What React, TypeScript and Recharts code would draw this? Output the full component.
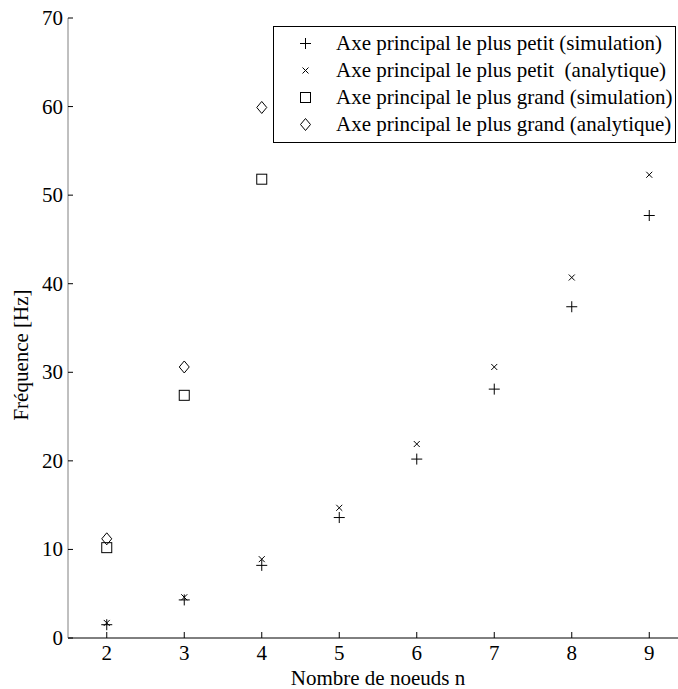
import React from "react";
import { ScatterChart, Scatter, XAxis, YAxis, Legend } from "recharts";

// nombre de noeuds
const nodes = [2, 3, 4, 5, 6, 7, 8, 9];
const petitSim = [1.5, 4.3, 8.2, 13.6, 20.2, 28.1, 37.4, 47.7];
const petitAna = [1.7, 4.6, 8.9, 14.7, 21.9, 30.6, 40.7, 52.3];

const grandNodes = [2, 3, 4];
const grandSim = [10.2, 27.4, 51.8];
const grandAna = [11.2, 30.6, 59.9];

const yTicks = [0, 10, 20, 30, 40, 50, 60, 70];

const FONT = "'Liberation Serif', 'Times New Roman', serif";
const FS = 21;

const toPoints = (xs: number[], ys: number[]) => xs.map((n, i) => ({ n, f: ys[i] }));

const PlusMark = ({ cx, cy }: any) => (
    <path d={`M${cx - 5.5},${cy}H${cx + 5.5}M${cx},${cy - 5.5}V${cy + 5.5}`} stroke="#000" fill="none" />
);
const CrossMark = ({ cx, cy }: any) => (
    <path d={`M${cx - 3},${cy - 3}L${cx + 3},${cy + 3}M${cx - 3},${cy + 3}L${cx + 3},${cy - 3}`} stroke="#000" fill="none" />
);
const SquareMark = ({ cx, cy }: any) => (
    <rect x={cx - 5} y={cy - 5} width={10} height={10} stroke="#000" fill="none" />
);
const DiamondMark = ({ cx, cy }: any) => (
    <path d={`M${cx},${cy - 6}L${cx + 5},${cy}L${cx},${cy + 6}L${cx - 5},${cy}Z`} stroke="#000" fill="none" />
);

const series = [
    { name: "Axe principal le plus petit (simulation)", data: toPoints(nodes, petitSim), Mark: PlusMark },
    { name: "Axe principal le plus petit  (analytique)", data: toPoints(nodes, petitAna), Mark: CrossMark },
    { name: "Axe principal le plus grand (simulation)", data: toPoints(grandNodes, grandSim), Mark: SquareMark },
    { name: "Axe principal le plus grand (analytique)", data: toPoints(grandNodes, grandAna), Mark: DiamondMark },
];

const XTick = ({ x, y, payload }: any) => (
    <g>
        <line x1={x} y1={y} x2={x} y2={y - 6} stroke="#000" />
        <text x={x} y={y + 22} textAnchor="middle" fontSize={FS} fontFamily={FONT} fill="#000">
            {payload.value}
        </text>
    </g>
);

const YTick = ({ x, y, payload }: any) => (
    <g>
        <line x1={x} y1={y} x2={x + 5} y2={y} stroke="#000" />
        <text x={x - 5} y={y + 7} textAnchor="end" fontSize={FS} fontFamily={FONT} fill="#000">
            {payload.value}
        </text>
    </g>
);

const LegendBox = () => (
    <div
        style={{
            border: "1px solid #000",
            background: "#fff",
            width: 403,
            boxSizing: "border-box",
            padding: "3px 0 4px 0",
            fontFamily: FONT,
            fontSize: FS,
            lineHeight: "27px",
            color: "#000",
        }}
    >
        {series.map(({ name, Mark }) => (
            <div key={name} style={{ display: "flex", alignItems: "center", height: 27 }}>
                <svg width={62} height={27} style={{ flex: "none" }}>
                    <Mark cx={31.5} cy={13.5} />
                </svg>
                <span style={{ whiteSpace: "pre" }}>{name}</span>
            </div>
        ))}
    </div>
);

const App: React.FC = () => {
    return (
        <div
            style={{
                position: "fixed",
                left: 0,
                top: 0,
                width: 678,
                height: 689,
                overflow: "hidden",
                background: "#fff",
            }}
        >
            <ScatterChart width={688} height={689} margin={{ top: 18, right: 0, bottom: 0, left: 0 }}>
                <XAxis
                    type="number"
                    dataKey="n"
                    domain={[1.5, 9.5]}
                    ticks={nodes}
                    allowDataOverflow
                    height={51}
                    axisLine={{ stroke: "#000" }}
                    tickLine={false}
                    tickSize={0}
                    tickMargin={0}
                    tick={<XTick />}
                    label={{
                        content: (props: any) => {
                            const vb = props.viewBox || {};
                            return (
                                <text
                                    x={(vb.x ?? 68) + (vb.width ?? 620) / 2}
                                    y={685}
                                    textAnchor="middle"
                                    fontSize={FS}
                                    fontFamily={FONT}
                                    fill="#000"
                                >
                                    Nombre de noeuds n
                                </text>
                            );
                        },
                    }}
                />
                <YAxis
                    type="number"
                    dataKey="f"
                    domain={[0, 70]}
                    ticks={yTicks}
                    allowDataOverflow
                    width={68}
                    axisLine={{ stroke: "#808080" }}
                    tickLine={false}
                    tickSize={0}
                    tickMargin={0}
                    tick={<YTick />}
                    label={{
                        content: () => (
                            <text
                                x={0}
                                y={0}
                                transform="translate(28,355) rotate(-90)"
                                textAnchor="middle"
                                fontSize={FS}
                                fontFamily={FONT}
                                fill="#000"
                            >
                                Fréquence [Hz]
                            </text>
                        ),
                    }}
                />
                <Legend
                    layout="horizontal"
                    verticalAlign="middle"
                    align="center"
                    content={<LegendBox />}
                    wrapperStyle={{ left: 273, top: 26, width: 403, height: "auto" }}
                />
                {series.map(({ name, data, Mark }) => (
                    <Scatter
                        key={name}
                        name={name}
                        data={data}
                        shape={<Mark />}
                        isAnimationActive={false}
                    />
                ))}
            </ScatterChart>
        </div>
    );
};

export default App;
